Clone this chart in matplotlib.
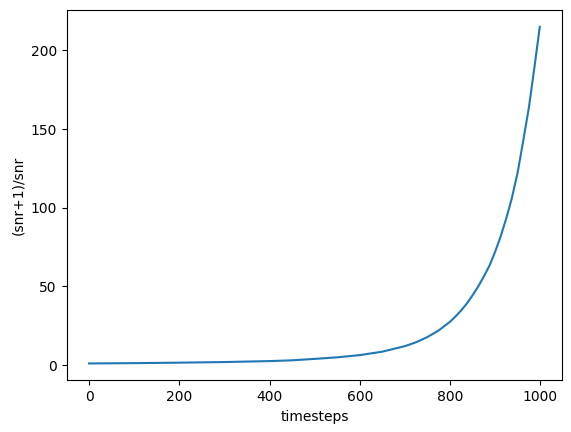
import matplotlib
matplotlib.use('Agg')
import matplotlib.pyplot as plt

# values
timesteps = [0, 100, 200, 300, 400, 450, 500, 550, 600, 650, 700, 725,
             750, 775, 800, 812, 825, 837, 850, 862, 875, 888, 900, 912,
             925, 937, 950, 962, 975, 987, 999]
ratio = [1.0, 1.2, 1.5, 1.9, 2.5, 3.0, 3.9, 4.9, 6.3, 8.5, 12.0, 14.5,
         17.8, 22.0, 27.5, 30.8, 34.8, 39.0, 44.3, 49.7, 56.3, 63.5, 72.0, 81.5,
         93.5, 106.0, 122.5, 142.0, 164.0, 189.0, 215.0]

fig = plt.figure(figsize=(5.71, 4.32), dpi=100)
fig.subplots_adjust(left=0.1165, right=0.9848, top=0.9769, bottom=0.1197)
ax = fig.add_subplot(111)
ax.plot(timesteps, ratio)
ax.set_xlabel('timesteps')
ax.set_ylabel('(snr+1)/snr')
fig.savefig('out.png', dpi=100)
